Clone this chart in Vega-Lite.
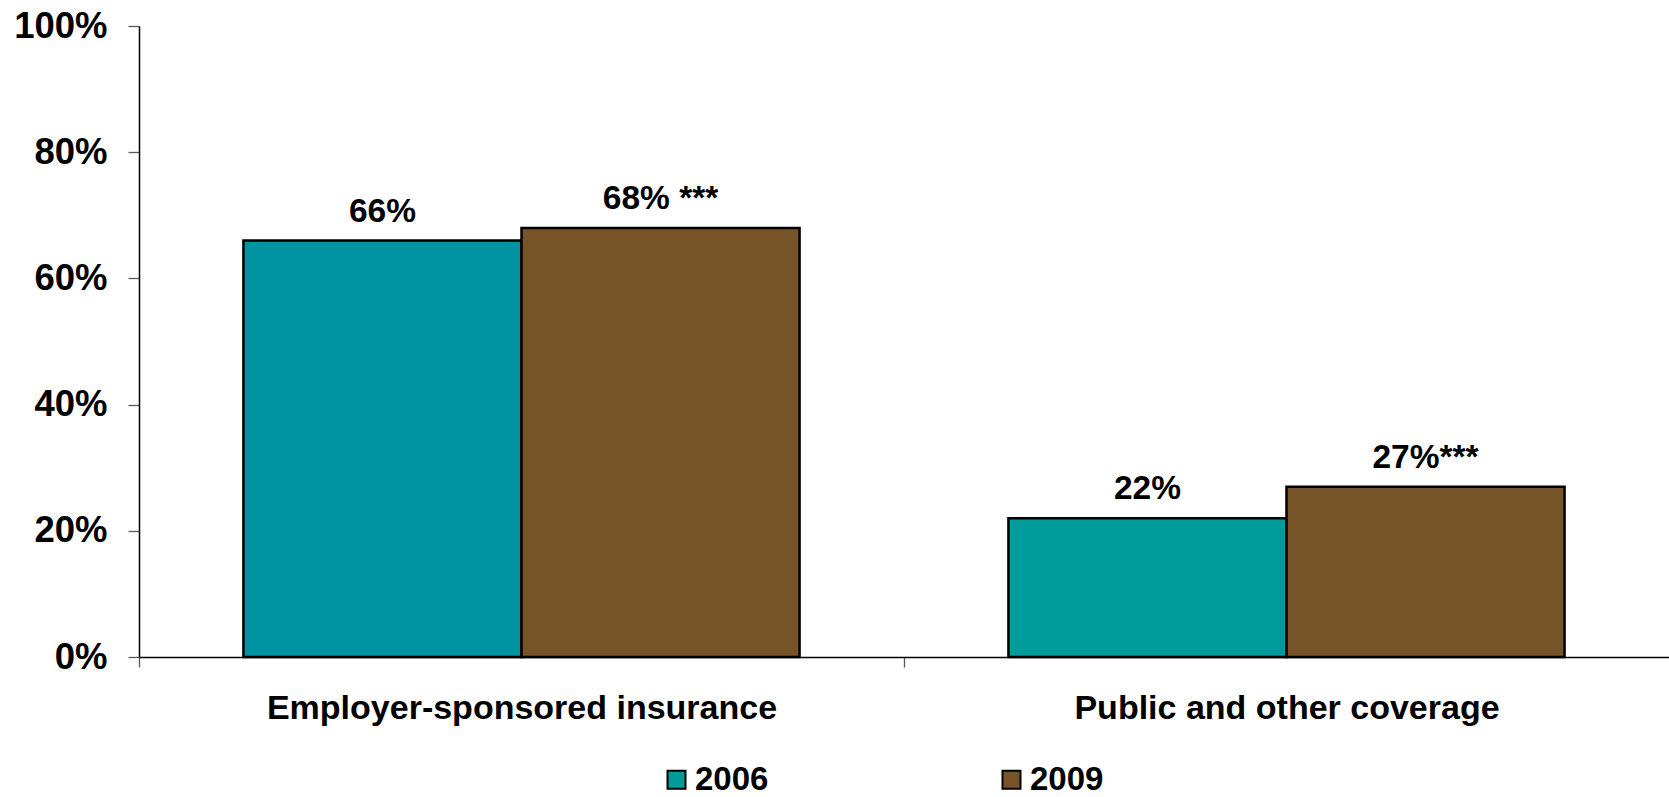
{
  "$schema": "https://vega.github.io/schema/vega-lite/v6.json",
  "width": 1530,
  "height": 631,
  "autosize": {"type": "none"},
  "padding": {"left": 139, "top": 26, "right": 0, "bottom": 140},
  "background": "white",
  "config": {
    "view": {"stroke": null},
    "font": "Liberation Sans"
  },
  "data": {
    "values": [
      {"group": "Employer-sponsored insurance", "year": "2006", "share": 0.66, "label": "66%"},
      {"group": "Employer-sponsored insurance", "year": "2009", "share": 0.68, "label": "68% ***"},
      {"group": "Public and other coverage", "year": "2006", "share": 0.22, "label": "22%"},
      {"group": "Public and other coverage", "year": "2009", "share": 0.27, "label": "27%***"}
    ]
  },
  "encoding": {
    "x": {
      "field": "group",
      "type": "nominal",
      "sort": null,
      "scale": {"paddingInner": 0.273, "paddingOuter": 0.1365},
      "axis": {
        "title": null,
        "labelAngle": 0,
        "labelLimit": 0,
        "labelFont": "Liberation Sans",
        "labelFontSize": 34,
        "labelFontWeight": "bold",
        "labelColor": "black",
        "labelPadding": 24,
        "tickOffset": -382.5,
        "labelOffset": 382.5,
        "tickSize": 10,
        "tickColor": "#5a5a5a",
        "tickWidth": 1.3,
        "domainColor": "black",
        "domainWidth": 1.5
      }
    },
    "xOffset": {"field": "year", "type": "nominal", "scale": {"paddingInner": 0, "paddingOuter": 0}},
    "y": {
      "field": "share",
      "type": "quantitative",
      "scale": {"domain": [0, 1], "nice": false},
      "axis": {
        "title": null,
        "values": [0, 0.2, 0.4, 0.6, 0.8, 1],
        "format": ".0%",
        "grid": false,
        "labelFont": "Liberation Sans",
        "labelFontSize": 36.5,
        "labelFontWeight": "bold",
        "labelColor": "black",
        "labelPadding": 21,
        "tickSize": 11,
        "tickColor": "#5a5a5a",
        "tickWidth": 1.3,
        "domainColor": "black",
        "domainWidth": 1.5
      }
    }
  },
  "layer": [
    {
      "mark": {"type": "bar", "stroke": "black", "strokeWidth": 2.5},
      "encoding": {
        "fill": {
          "condition": {
            "test": "datum.group === 'Employer-sponsored insurance' && datum.year === '2006'",
            "value": "#0094A2"
          },
          "field": "year",
          "type": "nominal",
          "scale": {"domain": ["2006", "2009"], "range": ["#009B9B", "#765428"]},
          "legend": {
            "title": null,
            "orient": "none",
            "direction": "horizontal",
            "legendX": 521,
            "legendY": 737,
            "symbolType": "square",
            "symbolSize": 324,
            "symbolStrokeColor": "black",
            "symbolStrokeWidth": 2,
            "symbolOpacity": 1,
            "labelFont": "Liberation Sans",
            "labelFontSize": 33,
            "labelFontWeight": "bold",
            "labelColor": "black",
            "labelOffset": 2,
            "columnPadding": 226
          }
        }
      }
    },
    {
      "mark": {
        "type": "text",
        "baseline": "alphabetic",
        "align": "center",
        "dy": -19,
        "font": "Liberation Sans",
        "fontSize": 33.5,
        "fontWeight": "bold",
        "color": "black"
      },
      "encoding": {
        "text": {"field": "label"}
      }
    }
  ]
}
